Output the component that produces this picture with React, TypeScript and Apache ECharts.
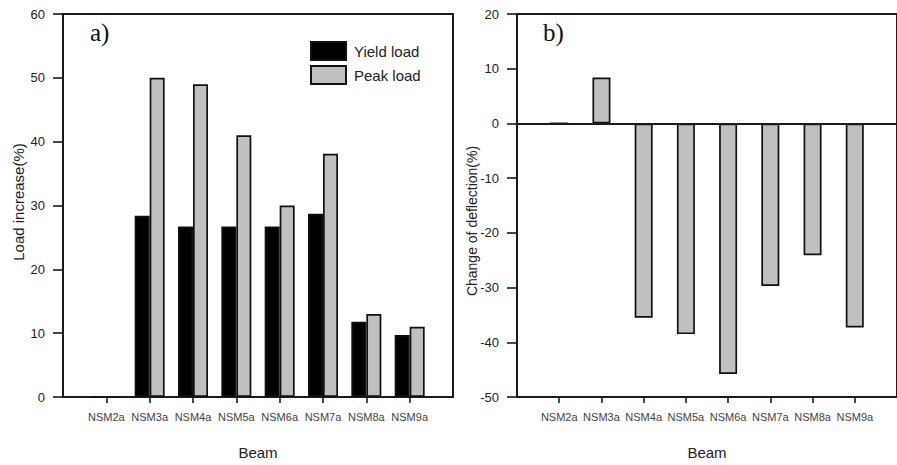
import React, { useEffect, useRef } from "react";
import * as echarts from "echarts";

// Beam designations along the horizontal axes
const beams = ["NSM2a", "NSM3a", "NSM4a", "NSM5a", "NSM6a", "NSM7a", "NSM8a", "NSM9a"];

// a) load increase relative to the control beam (%)
const yieldLoad = [0, 28.4, 26.7, 26.7, 26.7, 28.7, 11.8, 9.7];
const peakLoad = [0, 50, 49, 41, 30, 38.1, 13, 11];

// b) change of deflection (%)
const deflectionChange = [0, 8.4, -35.5, -38.5, -45.8, -29.7, -24.1, -37.3];

// beam positions on the numeric x axes (1..8)
const beamPositions = beams.map((_, i) => i + 1);

const FONT = '"Liberation Sans", Arial, sans-serif';
const SERIF = '"Liberation Serif", "Times New Roman", serif';
const LINE = "#1a1a1a";

const pairs = (vals: number[]) => vals.map((v, i) => [beamPositions[i], v]);

function xAxisFor(gridIndex: number) {
  return {
    type: "value" as const,
    gridIndex,
    min: 0,
    max: 9,
    name: "Beam",
    nameLocation: "middle" as const,
    nameGap: 48,
    nameTextStyle: { fontSize: 15, color: "#222", fontFamily: FONT },
    splitLine: { show: false },
    axisLine: { show: true, onZero: false, lineStyle: { color: LINE, width: 2 } },
    axisTick: { show: true, length: 6, customValues: beamPositions, lineStyle: { color: LINE, width: 1.6 } },
    axisLabel: {
      customValues: beamPositions,
      margin: 14,
      fontSize: 11,
      color: "#444",
      fontFamily: FONT,
      formatter: (v: number) => beams[Math.round(v) - 1] ?? "",
    },
  };
}

function yAxisFor(gridIndex: number, min: number, max: number) {
  return {
    type: "value" as const,
    gridIndex,
    min,
    max,
    interval: 10,
    splitLine: { show: false },
    axisLine: { show: true, onZero: false, lineStyle: { color: LINE, width: 2 } },
    axisTick: { show: true, length: 10, lineStyle: { color: LINE, width: 1.6 } },
    axisLabel: { margin: 18, fontSize: 13, color: "#222", fontFamily: FONT },
  };
}

export default function App() {
  const ref = useRef<HTMLDivElement>(null);

  useEffect(() => {
    if (!ref.current) return;
    const chart = echarts.init(ref.current, null, { renderer: "svg" });

    const barBorder = { borderColor: "#111", borderWidth: 1.7 };

    chart.setOption({
      animation: false,
      backgroundColor: "#fff",
      textStyle: { fontFamily: FONT },
      grid: [
        { left: 63, top: 14, width: 390, height: 388, show: true, borderColor: LINE, borderWidth: 2 },
        { left: 517, top: 14, width: 387, height: 388, show: true, borderColor: LINE, borderWidth: 2 },
      ],
      xAxis: [xAxisFor(0), xAxisFor(1)],
      yAxis: [yAxisFor(0, 0, 60), yAxisFor(1, -50, 20)],
      legend: {
        data: ["Yield load", "Peak load"],
        orient: "vertical",
        left: 310,
        top: 41,
        padding: 0,
        itemWidth: 35,
        itemHeight: 18,
        itemGap: 4,
        icon: "rect",
        textStyle: { fontSize: 15, color: "#222", fontFamily: FONT, padding: [0, 0, 0, 3] },
      },
      graphic: [
        { type: "text", left: 90, top: 20, style: { text: "a)", font: `25px ${SERIF}`, fill: "#111" } },
        { type: "text", left: 543, top: 20, style: { text: "b)", font: `25px ${SERIF}`, fill: "#111" } },
        {
          type: "text",
          x: 18,
          y: 202,
          rotation: Math.PI / 2,
          style: { text: "Load increase(%)", font: `15px ${FONT}`, fill: "#222", align: "center", verticalAlign: "middle" },
        },
        {
          type: "text",
          x: 472,
          y: 221,
          rotation: Math.PI / 2,
          style: { text: "Change of deflection(%)", font: `14px ${FONT}`, fill: "#222", align: "center", verticalAlign: "middle" },
        },
      ],
      series: [
        {
          name: "Yield load",
          type: "bar",
          xAxisIndex: 0,
          yAxisIndex: 0,
          barWidth: 15,
          barGap: "0%",
          itemStyle: { color: "#000", ...barBorder },
          data: pairs(yieldLoad),
        },
        {
          name: "Peak load",
          type: "bar",
          xAxisIndex: 0,
          yAxisIndex: 0,
          barWidth: 15,
          barGap: "0%",
          itemStyle: { color: "#c0c0c0", ...barBorder },
          data: pairs(peakLoad),
        },
        {
          name: "Deflection change",
          type: "bar",
          xAxisIndex: 1,
          yAxisIndex: 1,
          barWidth: 18,
          itemStyle: { color: "#c0c0c0", ...barBorder },
          data: pairs(deflectionChange),
          markLine: {
            silent: true,
            symbol: "none",
            label: { show: false },
            lineStyle: { color: LINE, width: 1.8, type: "solid" },
            data: [{ yAxis: 0 }],
          },
        },
      ],
    });

    return () => chart.dispose();
  }, []);

  return (
    <div
      ref={ref}
      style={{ position: "fixed", left: 0, top: 0, width: 897, height: 465, background: "#fff" }}
    />
  );
}
